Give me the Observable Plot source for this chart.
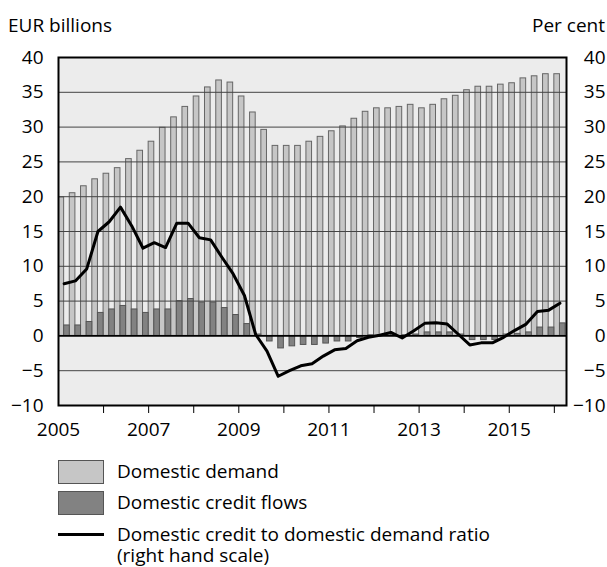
<!DOCTYPE html>
<html>
<head>
<meta charset="utf-8">
<script src="https://cdn.jsdelivr.net/npm/d3@7"></script>
<script src="https://cdn.jsdelivr.net/npm/@observablehq/plot@0.6"></script>
<style>
  body { margin: 0; background: #fff; }
  #wrap { position: relative; width: 607px; height: 567px; font-family: "Open Sans", sans-serif; color: #000; overflow: hidden; }
  .hdr { position: absolute; font-size: 19px; line-height: 26px; white-space: nowrap; }
  .leg { position: absolute; font-size: 19px; line-height: 21px; white-space: pre; }
  .box { position: absolute; width: 44px; height: 22px; border: 1px solid #555; }
  .ln { position: absolute; width: 46px; height: 3px; background: #000; }
  svg { position: absolute; left: 0; top: 0; }
</style>
</head>
<body>
<div id="wrap"></div>
<script>
const quarters = [
  "2005Q1","2005Q2","2005Q3","2005Q4","2006Q1","2006Q2","2006Q3","2006Q4",
  "2007Q1","2007Q2","2007Q3","2007Q4","2008Q1","2008Q2","2008Q3","2008Q4",
  "2009Q1","2009Q2","2009Q3","2009Q4","2010Q1","2010Q2","2010Q3","2010Q4",
  "2011Q1","2011Q2","2011Q3","2011Q4","2012Q1","2012Q2","2012Q3","2012Q4",
  "2013Q1","2013Q2","2013Q3","2013Q4","2014Q1","2014Q2","2014Q3","2014Q4",
  "2015Q1","2015Q2","2015Q3","2015Q4","2016Q1"
];
// Domestic demand, EUR billions (left scale)
const domesticDemand = [
  19.9, 20.5, 21.5, 22.5, 23.3, 24.1, 25.4, 26.6,
  27.9, 29.9, 31.4, 32.9, 34.4, 35.7, 36.7, 36.4,
  34.4, 32.1, 29.6, 27.3, 27.3, 27.3, 27.9, 28.6,
  29.4, 30.1, 31.2, 32.2, 32.7, 32.7, 32.9, 33.2,
  32.7, 33.2, 34.0, 34.5, 35.3, 35.8, 35.8, 36.1,
  36.3, 37.0, 37.3, 37.6, 37.6
];
// Domestic credit flows, EUR billions (left scale)
const creditFlows = [
  1.5, 1.5, 2.0, 3.3, 3.8, 4.3, 3.8, 3.3,
  3.8, 3.8, 5.0, 5.3, 4.8, 4.8, 4.0, 3.0,
  1.7, 0.2, -0.8, -1.8, -1.5, -1.3, -1.3, -1.1,
  -0.8, -0.8, -0.3, 0.1, 0.1, 0.1, 0.1, 0.2,
  0.5, 0.5, 0.5, 0.2, -0.6, -0.6, -0.6, 0.2,
  0.3, 0.5, 1.2, 1.2, 1.8
];
// Domestic credit to domestic demand ratio, per cent (right scale)
const creditRatio = [
  7.5, 7.9, 9.6, 15.0, 16.4, 18.5, 15.8, 12.6,
  13.4, 12.7, 16.2, 16.2, 14.1, 13.8, 11.3, 8.9,
  5.8, 0.2, -2.2, -5.8, -5.0, -4.3, -4.0, -2.9,
  -2.0, -1.8, -0.7, -0.2, 0.1, 0.5, -0.3, 0.7,
  1.8, 1.9, 1.7, 0.2, -1.3, -1.0, -1.0, -0.2,
  0.8, 1.7, 3.5, 3.7, 4.7
];
const yTicks = [-10, -5, 0, 5, 10, 15, 20, 25, 30, 35, 40];
const gridValues = [-5, 5, 10, 15, 20, 25, 30, 35];
const tickYears = [2006, 2007, 2008, 2009, 2010, 2011, 2012, 2013, 2014, 2015, 2016];
const labelYears = [2005, 2007, 2009, 2011, 2013, 2015];

const data = quarters.map((q, i) => ({
  t: +q.slice(0, 4) + (+q.slice(5) - 1) / 4,
  demand: domesticDemand[i],
  flows: creditFlows[i],
  ratio: creditRatio[i]
}));

const chart = Plot.plot({
  width: 607,
  height: 445,
  marginLeft: 58,
  marginRight: 41,
  marginTop: 57,
  marginBottom: 40,
  style: { fontFamily: "'Open Sans', sans-serif", fontSize: "19px", color: "#000", background: "transparent" },
  x: { domain: [2005, 2016.27] },
  y: { domain: [-10, 40] },
  marks: [
    Plot.frame({ fill: "#ececec", stroke: null }),
    Plot.rectY(data, { x1: d => d.t, x2: d => d.t + 0.125, y1: 0, y2: "demand", fill: "#c6c6c6", stroke: "#666", strokeWidth: 1, clip: true }),
    Plot.rectY(data, { x1: d => d.t + 0.125, x2: d => d.t + 0.25, y1: 0, y2: "flows", fill: "#828282", stroke: "#555", strokeWidth: 1, clip: true }),
    Plot.ruleY(gridValues, { stroke: "#444", strokeWidth: 1 }),
    Plot.ruleY([0], { stroke: "#000", strokeWidth: 1.6 }),
    Plot.lineY(data, { x: d => d.t + 0.125, y: "ratio", stroke: "#000", strokeWidth: 3, clip: true }),
    Plot.frame({ stroke: "#000", strokeWidth: 2 }),
    Plot.axisY({ anchor: "left", ticks: yTicks, tickSize: 0, tickPadding: 15, label: null, tickFormat: d3.format("d") }),
    Plot.axisY({ anchor: "right", ticks: yTicks, tickSize: 0, tickPadding: 39, textAnchor: "end", label: null, tickFormat: d3.format("d") }),
    Plot.axisX({ ticks: tickYears, tickSize: 8, tickFormat: () => "", label: null, stroke: "#000" }),
    Plot.axisX({ ticks: labelYears, tickSize: 0, tickPadding: 17, tickFormat: d => String(d), label: null })
  ]
});

const wrap = document.getElementById("wrap");
wrap.appendChild(chart);

function addDiv(cls, text, css) {
  const el = document.createElement("div");
  el.className = cls;
  if (text) el.textContent = text;
  Object.assign(el.style, css);
  wrap.appendChild(el);
  return el;
}
addDiv("hdr", "EUR billions", { left: "8px", top: "12px" });
addDiv("hdr", "Per cent", { right: "2px", top: "12px" });

const legendItems = [
  { label: "Domestic demand", kind: "box", fill: "#c6c6c6" },
  { label: "Domestic credit flows", kind: "box", fill: "#828282" },
  { label: "Domestic credit to domestic demand ratio\n(right hand scale)", kind: "line" }
];
const rowCenters = [471.5, 502.5, 534];
legendItems.forEach((it, i) => {
  const c = rowCenters[i];
  if (it.kind === "box") {
    addDiv("box", null, { left: "58px", top: (c - 12) + "px", background: it.fill });
  } else {
    addDiv("ln", null, { left: "58px", top: (c - 1.5) + "px" });
  }
  addDiv("leg", it.label, { left: "117px", top: (c - 10.5) + "px" });
});
</script>
</body>
</html>
